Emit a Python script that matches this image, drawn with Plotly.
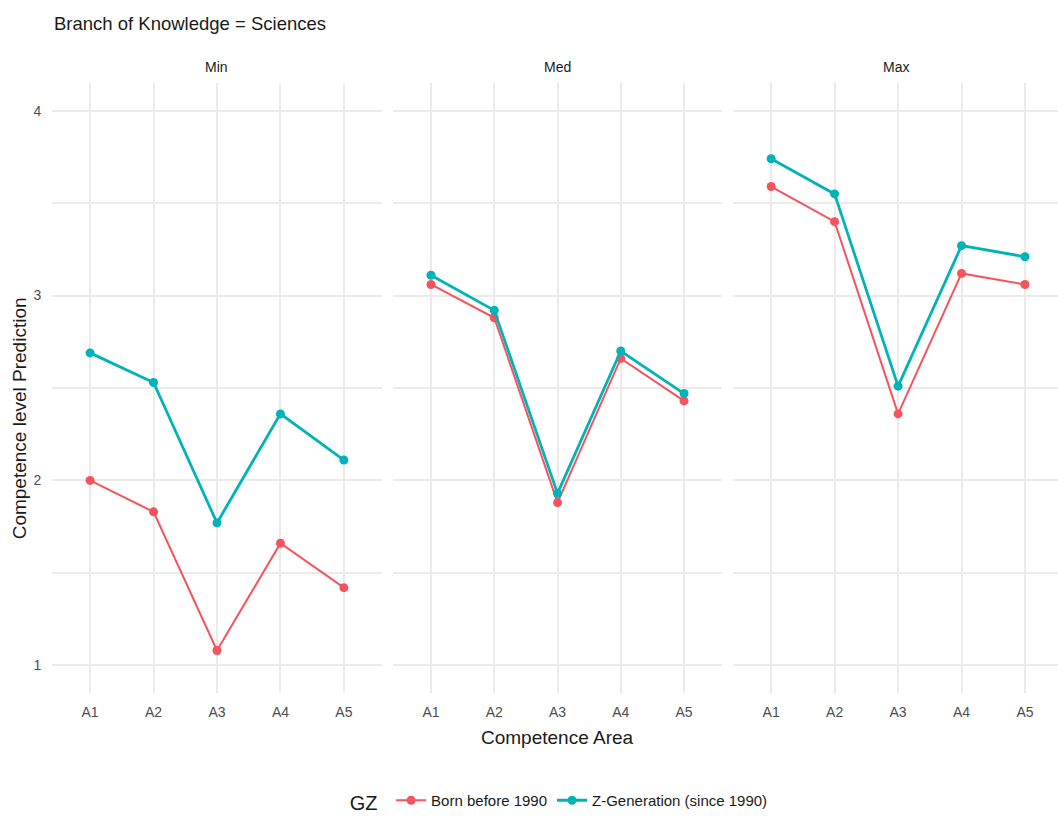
import plotly.graph_objects as go
from plotly.subplots import make_subplots

# Competence level predictions, Sciences branch
areas = ["A1", "A2", "A3", "A4", "A5"]
panels = ["Min", "Med", "Max"]

born_before_1990 = {
    "Min": [2.00, 1.83, 1.08, 1.66, 1.42],
    "Med": [3.06, 2.88, 1.88, 2.66, 2.43],
    "Max": [3.59, 3.40, 2.36, 3.12, 3.06],
}
z_generation = {
    "Min": [2.69, 2.53, 1.77, 2.36, 2.11],
    "Med": [3.11, 2.92, 1.93, 2.70, 2.47],
    "Max": [3.74, 3.55, 2.51, 3.27, 3.21],
}

y_ticks = [1, 2, 3, 4]

RED = "#F5535D"
TEAL = "#00B3B7"
GRID = "#EBEBEB"
FONT = "Liberation Sans"

fig = make_subplots(rows=1, cols=3, shared_yaxes=True)

for i, p in enumerate(panels):
    col = i + 1
    fig.add_trace(go.Scatter(
        x=list(range(len(areas))), y=born_before_1990[p], mode="lines+markers",
        name="Born before 1990", legendgroup="b", showlegend=(i == 0),
        line=dict(color=RED, width=2), marker=dict(color=RED, size=9),
    ), row=1, col=col)
    fig.add_trace(go.Scatter(
        x=list(range(len(areas))), y=z_generation[p], mode="lines+markers",
        name="Z-Generation (since 1990)", legendgroup="z", showlegend=(i == 0),
        line=dict(color=TEAL, width=2.8), marker=dict(color=TEAL, size=9),
    ), row=1, col=col)

domains = [[0.0, 0.328], [0.339, 0.666], [0.677, 1.0]]
xranges = [[-0.6, 4.6], [-0.6, 4.6], [-0.6, 4.52]]
for i in range(3):
    fig.update_xaxes(
        domain=domains[i], range=xranges[i],
        tickmode="array", tickvals=list(range(len(areas))), ticktext=areas,
        showgrid=True, gridcolor=GRID, gridwidth=2, zeroline=False,
        showline=False, ticks="outside", ticklen=6, tickcolor="rgba(0,0,0,0)",
        tickfont=dict(family=FONT, size=14, color="#4D4D4D"),
        row=1, col=i + 1,
    )
    fig.update_yaxes(
        range=[0.85, 4.15], tickmode="array", tickvals=y_ticks,
        showgrid=True, gridcolor=GRID, gridwidth=2, zeroline=False,
        minor=dict(dtick=0.5, tick0=0.5, showgrid=True, gridcolor=GRID, gridwidth=2),
        showline=False, ticks="outside", ticklen=7, tickcolor="rgba(0,0,0,0)",
        tickfont=dict(family=FONT, size=14, color="#4D4D4D"),
        row=1, col=i + 1,
    )

annotations = [
    dict(text="Branch of Knowledge = Sciences", x=0.0, y=1.098, xref="paper", yref="paper",
         xanchor="left", yanchor="middle", showarrow=False,
         font=dict(family=FONT, size=18.5, color="#1A1A1A")),
    dict(text="Competence Area", x=0.502, y=-0.073, xref="paper", yref="paper",
         xanchor="center", yanchor="middle", showarrow=False,
         font=dict(family=FONT, size=19, color="#1A1A1A")),
    dict(text="Competence level Prediction", x=-0.032, y=0.45, xref="paper", yref="paper",
         xanchor="center", yanchor="middle", showarrow=False, textangle=-90,
         font=dict(family=FONT, size=19, color="#1A1A1A")),
]
for i, p in enumerate(panels):
    annotations.append(dict(
        text=p, x=(domains[i][0] + domains[i][1]) / 2, y=1.026, xref="paper", yref="paper",
        xanchor="center", yanchor="middle", showarrow=False,
        font=dict(family=FONT, size=14, color="#1A1A1A"),
    ))

fig.update_layout(
    width=1058, height=820,
    margin=dict(l=52, r=0, t=83, b=123),
    paper_bgcolor="white", plot_bgcolor="white",
    annotations=annotations,
    legend=dict(
        orientation="h", x=0.294, xanchor="left", y=-0.179, yanchor="middle",
        title=dict(text="GZ ", font=dict(family=FONT, size=20, color="#1A1A1A")),
        font=dict(family=FONT, size=15, color="#1A1A1A"),
        itemwidth=30,
    ),
)

fig.write_html("out.html")
